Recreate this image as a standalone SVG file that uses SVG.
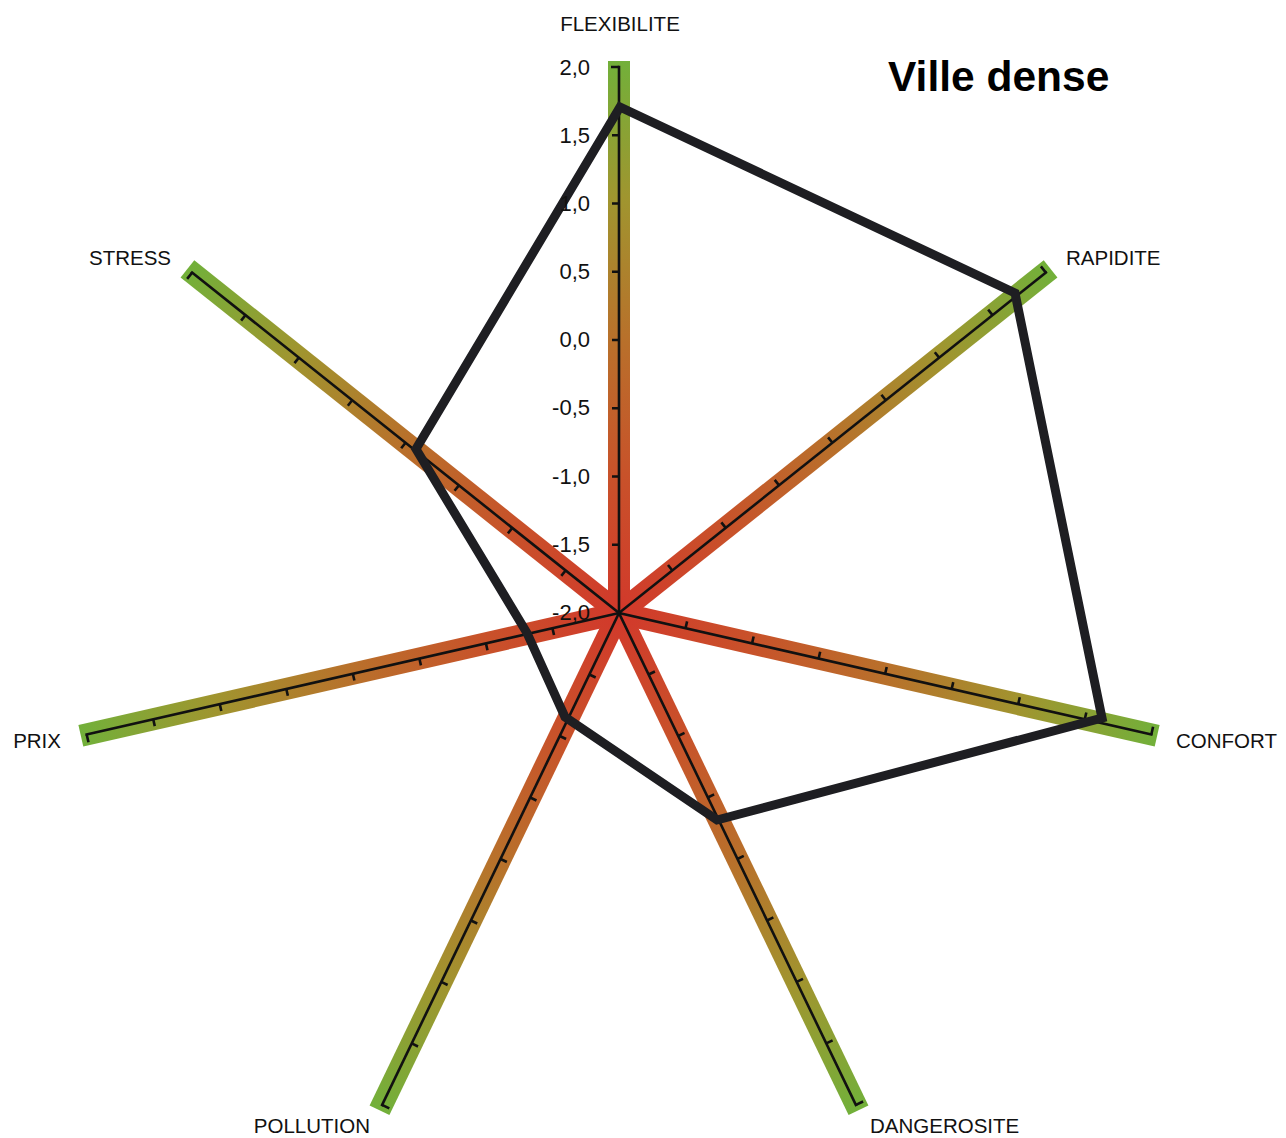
<svg xmlns="http://www.w3.org/2000/svg" xmlns:xlink="http://www.w3.org/1999/xlink" width="1286" height="1138" viewBox="0 0 1286 1138">
<style>
.band{fill:none;stroke:url(#g);stroke-width:22;stroke-linecap:butt}
.axl{fill:none;stroke:#111;stroke-width:2.6;stroke-linecap:square}
.tick{fill:none;stroke:#111;stroke-width:2.6}
.cat{font-family:"Liberation Sans",Arial,sans-serif;font-size:20.5px;fill:#111}
.val{font-family:"Liberation Sans",Arial,sans-serif;font-size:22px;fill:#111;text-anchor:end}
.title{font-family:"Liberation Sans",Arial,sans-serif;font-size:42.5px;font-weight:bold;fill:#000}
.data{fill:none;stroke:#1e1e22;stroke-width:9;stroke-linejoin:miter}
</style>
<defs>
<linearGradient id="g" gradientUnits="userSpaceOnUse" x1="619" y1="613" x2="619" y2="61">
<stop offset="0" stop-color="#d2392b"/>
<stop offset="0.25" stop-color="#c8522a"/>
<stop offset="0.5" stop-color="#b8712b"/>
<stop offset="0.75" stop-color="#a0952f"/>
<stop offset="1" stop-color="#72b03a"/>
</linearGradient>
<g id="axisband"><line class="band" x1="619" y1="613" x2="619" y2="61"/></g>
<g id="axisline">
<line class="axl" x1="619" y1="613" x2="619" y2="67"/>
<path class="tick" d="M619 544.75H612M619 476.5H612M619 408.25H612M619 340H612M619 271.75H612M619 203.5H612M619 135.25H612M619 67H611"/>
</g>
</defs>
<g id="axes">
<g id="axis-flexibilite"><use xlink:href="#axisband"/></g>
<g id="axis-rapidite" transform="rotate(51.4286 619 613)"><use xlink:href="#axisband"/></g>
<g id="axis-confort" transform="rotate(102.857 619 613)"><use xlink:href="#axisband"/></g>
<g id="axis-dangerosite" transform="rotate(154.286 619 613)"><use xlink:href="#axisband"/></g>
<g id="axis-pollution" transform="rotate(205.714 619 613)"><use xlink:href="#axisband"/></g>
<g id="axis-prix" transform="rotate(257.143 619 613)"><use xlink:href="#axisband"/></g>
<g id="axis-stress" transform="rotate(308.571 619 613)"><use xlink:href="#axisband"/></g>
<use xlink:href="#axisline"/>
<use xlink:href="#axisline" transform="rotate(51.4286 619 613)"/>
<use xlink:href="#axisline" transform="rotate(102.857 619 613)"/>
<use xlink:href="#axisline" transform="rotate(154.286 619 613)"/>
<use xlink:href="#axisline" transform="rotate(205.714 619 613)"/>
<use xlink:href="#axisline" transform="rotate(257.143 619 613)"/>
<use xlink:href="#axisline" transform="rotate(308.571 619 613)"/>
</g>
<g id="connectors">
<polygon class="data" points="620,107 1015,293 1102,718 717,820 565,717 527,633 416,449"/>
</g>
<g id="scale-labels">
<text class="val" x="590" y="75">2,0</text>
<text class="val" x="590" y="143">1,5</text>
<text class="val" x="590" y="211">1,0</text>
<text class="val" x="590" y="279">0,5</text>
<text class="val" x="590" y="347">0,0</text>
<text class="val" x="590" y="415">-0,5</text>
<text class="val" x="590" y="484">-1,0</text>
<text class="val" x="590" y="552">-1,5</text>
<text class="val" x="590" y="620">-2,0</text>
</g>
<g id="node-flexibilite"><text class="cat" x="620" y="31" text-anchor="middle">FLEXIBILITE</text></g>
<g id="node-rapidite"><text class="cat" x="1066" y="265">RAPIDITE</text></g>
<g id="node-confort"><text class="cat" x="1176" y="748">CONFORT</text></g>
<g id="node-dangerosite"><text class="cat" x="870" y="1133">DANGEROSITE</text></g>
<g id="node-pollution"><text class="cat" x="370" y="1133" text-anchor="end">POLLUTION</text></g>
<g id="node-prix"><text class="cat" x="61" y="748" text-anchor="end">PRIX</text></g>
<g id="node-stress"><text class="cat" x="171" y="265" text-anchor="end">STRESS</text></g>
<g id="title"><text class="title" x="888" y="91">Ville dense</text></g>
</svg>
